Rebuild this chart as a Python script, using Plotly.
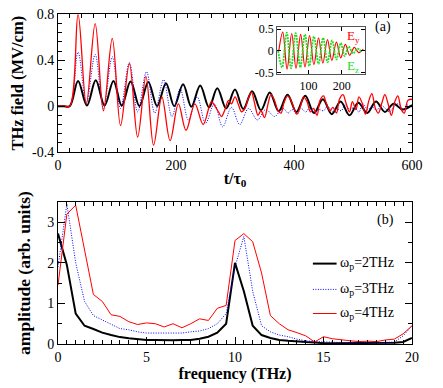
import plotly.graph_objects as go

# panel (a): extrema / samples
t_black = [0, 10, 20, 34, 49, 64, 79, 94, 108, 123, 138, 153, 168, 183, 197, 212, 226, 241, 256, 270, 285,
           300, 314, 329, 344, 359, 374, 389, 404, 419, 434, 449, 464, 479, 494, 509, 524, 539, 554, 569, 584, 600]
e_black = [0, 0, 0, 0.22, 0.005, 0.225, 0.005, 0.22, 0.005, 0.215, 0.0, 0.21, 0.0, 0.2, 0.0, 0.19, -0.005, 0.18,
           -0.01, 0.155, -0.02, 0.145, -0.025, 0.13, -0.035, 0.12, -0.045, 0.1, -0.05, 0.09, -0.06, 0.06, -0.07,
           0.04, -0.08, 0.03, -0.06, 0.04, -0.05, 0.02, -0.03, 0.01]

t_blue = [0, 10, 20, 34, 48, 63, 77, 92, 106, 121, 135, 150, 164, 179, 193, 207, 221, 236, 250, 265, 279, 294,
          308, 323, 338, 352, 367, 375, 382, 390, 397, 405, 412, 420, 427, 435, 442, 450, 457, 465, 472, 480,
          487, 495, 502, 510, 517, 525, 532, 540, 547, 555, 562, 570, 577, 585, 592, 600]
e_blue = [0, 0, 0, 0.47, 0.03, 0.45, -0.02, 0.43, -0.02, 0.38, -0.05, 0.3, -0.06, 0.23, -0.09, 0.15, -0.12, 0.08,
          -0.15, 0.02, -0.18, -0.01, -0.16, -0.02, -0.12, -0.03, -0.09, -0.05, -0.02, -0.06, -0.03, -0.07, -0.02,
          -0.05, -0.01, -0.06, -0.03, -0.04, 0.0, -0.05, -0.02, -0.04, 0.01, -0.03, -0.01, -0.05, 0.02, -0.03,
          0.0, -0.04, 0.01, -0.02, -0.05, 0.0, 0.02, -0.03, 0.01, -0.01]

t_red = [0, 10, 20, 34, 48, 63, 77, 92, 106, 121, 135, 149, 162, 176, 190, 204, 217, 232, 246, 260, 266, 272,
         277, 283, 289, 294, 300, 306, 311, 317, 322, 328, 333, 339, 344, 350, 356, 361, 367, 372, 378, 383,
         389, 394, 400, 405, 411, 416, 422, 428, 433, 439, 444, 450, 455, 461, 466, 472, 477, 483, 488, 494,
         499, 505, 510, 516, 521, 527, 532, 538, 543, 549, 554, 560, 565, 571, 576, 582, 587, 593, 600]
e_red = [0, 0, 0, 0.8, 0.02, 0.72, -0.04, 0.59, -0.17, 0.37, -0.27, 0.26, -0.34, 0.08, -0.3, 0.02, -0.21, 0.02,
         -0.16, 0.04, 0.0, -0.05, -0.09, -0.03, 0.05, 0.02, 0.08, 0.01, -0.05, -0.02, 0.06, 0.12, 0.03, -0.08,
         -0.04, -0.1, 0.02, 0.1, 0.05, -0.03, -0.06, 0.03, 0.09, 0.06, -0.02, -0.07, 0.0, 0.08, 0.04, -0.05,
         -0.02, -0.08, 0.05, 0.09, 0.02, -0.04, -0.01, -0.06, 0.06, 0.1, 0.03, -0.05, 0.04, -0.03, 0.08, 0.02,
         -0.07, 0.05, 0.11, -0.02, -0.06, 0.03, 0.1, 0.01, -0.08, 0.04, 0.09, -0.03, -0.06, 0.05, 0.06]

# inset
t_ey = [10, 22, 35, 49, 62, 76, 89, 103, 116, 130, 143, 157, 170, 184, 197, 211, 224, 238, 251, 265]
e_ey = [0.0, 0.43, -0.42, 0.4, -0.4, 0.38, -0.37, 0.35, -0.32, 0.3, -0.28, 0.26, -0.22, 0.2, -0.16, 0.15,
        -0.1, 0.08, -0.04, 0.04]
t_ez = [8, 20, 34, 47, 61, 75, 89, 102, 116, 130, 144, 157, 171, 184, 197, 209, 221, 234, 247, 260]
e_ez = [0.0, -0.38, 0.42, -0.4, 0.41, -0.38, 0.38, -0.35, 0.33, -0.3, 0.3, -0.26, 0.24, -0.2, 0.18, -0.12,
        0.1, -0.06, 0.05, -0.02]

# panel (b): spectra every 0.5 THz
freq = [i * 0.5 for i in range(41)]
amp_2 = [2.72, 1.95, 0.75, 0.45, 0.37, 0.28, 0.22, 0.17, 0.14, 0.12, 0.1, 0.1, 0.09, 0.09, 0.1, 0.1, 0.13,
         0.18, 0.28, 0.5, 2.0, 1.3, 0.45, 0.22, 0.15, 0.1, 0.08, 0.06, 0.05, 0.04, 0.02, 0.02, 0.02, 0.02,
         0.02, 0.02, 0.02, 0.02, 0.03, 0.05, 0.15]
amp_3 = [1.9, 3.45, 2.0, 1.05, 0.7, 0.6, 0.5, 0.38, 0.35, 0.3, 0.27, 0.27, 0.28, 0.28, 0.27, 0.3, 0.32, 0.38,
         0.5, 0.75, 1.9, 2.65, 1.3, 0.45, 0.3, 0.22, 0.18, 0.12, 0.08, 0.06, 0.05, 0.04, 0.03, 0.03, 0.03,
         0.03, 0.04, 0.04, 0.05, 0.2, 0.45]
amp_4 = [1.45, 3.2, 3.42, 2.35, 1.22, 1.05, 0.72, 0.68, 0.55, 0.48, 0.52, 0.5, 0.42, 0.5, 0.4, 0.5, 0.62, 0.58,
         0.88, 0.95, 2.55, 2.72, 2.52, 1.75, 0.7, 0.5, 0.35, 0.28, 0.2, 0.05, 0.18, 0.13, 0.1, 0.08, 0.06,
         0.07, 0.06, 0.1, 0.12, 0.25, 0.45]
legend_names = ["ω<sub>p</sub>=2THz", "ω<sub>p</sub>=3THz", "ω<sub>p</sub>=4THz"]

FONT = "Liberation Serif, Times New Roman, serif"
DOTS = "1px,1.5px"

fig = go.Figure()

# panel (a)
fig.add_trace(go.Scatter(x=t_black, y=e_black, mode="lines", line=dict(color="black", width=2, shape="spline"),
                         xaxis="x", yaxis="y"))
fig.add_trace(go.Scatter(x=t_blue, y=e_blue, mode="lines", line=dict(color="blue", width=1, dash=DOTS, shape="spline"),
                         xaxis="x", yaxis="y"))
fig.add_trace(go.Scatter(x=t_red, y=e_red, mode="lines", line=dict(color="red", width=1.3, shape="spline"),
                         xaxis="x", yaxis="y"))

# inset
fig.add_trace(go.Scatter(x=t_ey, y=e_ey, mode="lines", line=dict(color="red", width=1.2, shape="spline"),
                         xaxis="x3", yaxis="y3"))
fig.add_trace(go.Scatter(x=t_ez, y=e_ez, mode="lines", line=dict(color="#22dd22", width=1.8, dash="2px,1px", shape="spline"),
                         xaxis="x3", yaxis="y3"))

# panel (b)
for amp, col, w, dash in [(amp_2, "black", 2, "solid"), (amp_3, "blue", 1, DOTS), (amp_4, "red", 1, "solid")]:
    fig.add_trace(go.Scatter(x=freq, y=amp, mode="lines", line=dict(color=col, width=w, dash=dash),
                             xaxis="x2", yaxis="y2"))

axis_common = dict(showline=True, linecolor="black", linewidth=1, mirror="allticks", ticks="inside",
                   ticklen=7, tickcolor="black", showgrid=False, zeroline=False, automargin=False,
                   ticklabeloverflow="allow",
                   tickfont=dict(family=FONT, size=14, color="black"))

# page body adds an 8px offset, so the figure is 8px smaller and shifted
fig.update_layout(
    width=435, height=380,
    margin=dict(l=50, r=31, t=1, b=44),
    paper_bgcolor="white", plot_bgcolor="white",
    showlegend=False,
    font=dict(family=FONT, color="black"),
    xaxis=dict(axis_common, domain=[0, 1], range=[0, 600], dtick=200, anchor="y",
               minor=dict(ticks="inside", ticklen=4, dtick=20, tickcolor="black"),
               title=dict(text="<b>t/τ<sub>0</sub></b>", font=dict(family=FONT, size=16), standoff=0)),
    yaxis=dict(axis_common, domain=[0.573, 0.984], range=[-0.4, 0.8], anchor="x",
               tickvals=[-0.4, 0, 0.4, 0.8], ticktext=["-0.4", "0", "0.4", "0.8"],
               minor=dict(ticks="inside", ticklen=4, dtick=0.08, tickcolor="black"),
               title=dict(text="<b>THz field (MV/cm)</b>", font=dict(family=FONT, size=16.5), standoff=5)),
    xaxis2=dict(axis_common, domain=[0, 1], range=[0, 20], dtick=5, anchor="y2",
                minor=dict(ticks="inside", ticklen=4, dtick=0.5, tickcolor="black"),
                title=dict(text="<b>frequency (THz)</b>", font=dict(family=FONT, size=16), standoff=0)),
    yaxis2=dict(axis_common, domain=[0, 0.424], range=[0, 3.5], dtick=1, anchor="x2",
                minor=dict(ticks="inside", ticklen=4, dtick=0.5, tickcolor="black"),
                title=dict(text="<b>amplitude (arb. units)</b>", font=dict(family=FONT, size=17.5), standoff=12)),
    xaxis3=dict(axis_common, domain=[0.619, 0.867], range=[5, 270], tickvals=[100, 200], anchor="y3",
                ticklen=4, linecolor="#555555", tickfont=dict(family=FONT, size=12, color="black")),
    yaxis3=dict(axis_common, domain=[0.805, 0.945], range=[-0.54, 0.54], anchor="x3",
                tickvals=[-0.5, 0, 0.5], ticktext=["-0.5", "0", "0.5"], ticklen=4, linecolor="#555555",
                tickfont=dict(family=FONT, size=12, color="black")),
)

# panel labels and inset labels
fig.add_annotation(x=0.917, y=0.975, xref="paper", yref="paper", text="(a)", showarrow=False,
                   font=dict(family=FONT, size=14), xanchor="center", yanchor="top")
fig.add_annotation(x=0.925, y=0.40, xref="paper", yref="paper", text="(b)", showarrow=False,
                   font=dict(family=FONT, size=14), xanchor="center", yanchor="top")
fig.add_annotation(x=0.812, y=0.948, xref="paper", yref="paper", text="E<sub>y</sub>", showarrow=False,
                   font=dict(family=FONT, size=13, color="red"), xanchor="left", yanchor="top")
fig.add_annotation(x=0.812, y=0.86, xref="paper", yref="paper", text="E<sub>z</sub>", showarrow=False,
                   font=dict(family=FONT, size=13, color="#22dd22"), xanchor="left", yanchor="top")

# legend for panel (b), drawn by hand
leg_y = [0.24, 0.163, 0.091]
for name, col, w, dash, yy in zip(legend_names, ["black", "blue", "red"], [2, 1, 1], ["solid", DOTS, "solid"], leg_y):
    fig.add_shape(type="line", xref="paper", yref="paper", x0=0.72, x1=0.787, y0=yy, y1=yy,
                  line=dict(color=col, width=w, dash=dash))
    fig.add_annotation(x=0.79, y=yy, xref="paper", yref="paper", text=name, showarrow=False,
                       font=dict(family=FONT, size=14), xanchor="left", yanchor="middle")

fig.write_html("out.html")
